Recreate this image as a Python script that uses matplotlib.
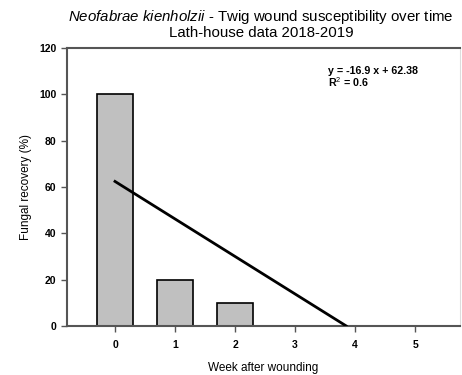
import numpy as np
import matplotlib.pyplot as plt

plt.rcParams['font.family'] = ['Liberation Sans', 'DejaVu Sans']
plt.rcParams['mathtext.fontset'] = 'custom'
plt.rcParams['mathtext.rm'] = 'Liberation Sans'
plt.rcParams['mathtext.it'] = 'Liberation Sans:italic'
plt.rcParams['mathtext.bf'] = 'Liberation Sans:bold'

# Data
weeks = [0, 1, 2, 3, 4, 5]
recovery = [100, 20, 10, 0, 0, 0]
fit_x = [0, 3.85]
fit_y = [62.38, 0]
x_ticks = [0, 1, 2, 3, 4, 5]
y_ticks = [0, 20, 40, 60, 80, 100, 120]

fig = plt.figure(figsize=(4.62, 3.75), dpi=100)
ax = fig.add_axes([0.145, 0.131, 0.851, 0.741])

ax.bar(weeks, recovery, width=0.6, color='#c0c0c0', edgecolor='black', linewidth=1.2, zorder=2)
ax.plot(fit_x, fit_y, color='black', linewidth=2, zorder=3)

ax.set_xlim(-0.8, 5.75)
ax.set_ylim(0, 120)
ax.set_xticks(x_ticks)
ax.set_yticks(y_ticks)
ax.tick_params(direction='out', length=4, width=1, color='#555555', labelsize=7.5)
for lab in ax.get_xticklabels() + ax.get_yticklabels():
    lab.set_fontweight('bold')
ax.tick_params(axis='x', pad=6)

for s in ['left', 'bottom', 'top']:
    ax.spines[s].set_color('#555555')
    ax.spines[s].set_linewidth(1.5)
ax.spines['right'].set_color('#dddddd')

ax.set_xlabel('Week after wounding', fontsize=8.5, labelpad=9)
ax.set_ylabel('Fungal recovery (%)', fontsize=8.5, labelpad=5)

fig.text(0.565, 0.955, r'$\mathit{Neofabrae\ kienholzii}$ - Twig wound susceptibility over time',
         ha='center', va='center', fontsize=10.8)
fig.text(0.565, 0.912, 'Lath-house data 2018-2019', ha='center', va='center', fontsize=10.8)

ax.text(0.664, 0.895, 'y = -16.9 x + 62.38\nR$^2$ = 0.6', transform=ax.transAxes,
        fontsize=7.7, fontweight='bold', va='center', ha='left', linespacing=0.95)

fig.savefig('out.png', dpi=100)
